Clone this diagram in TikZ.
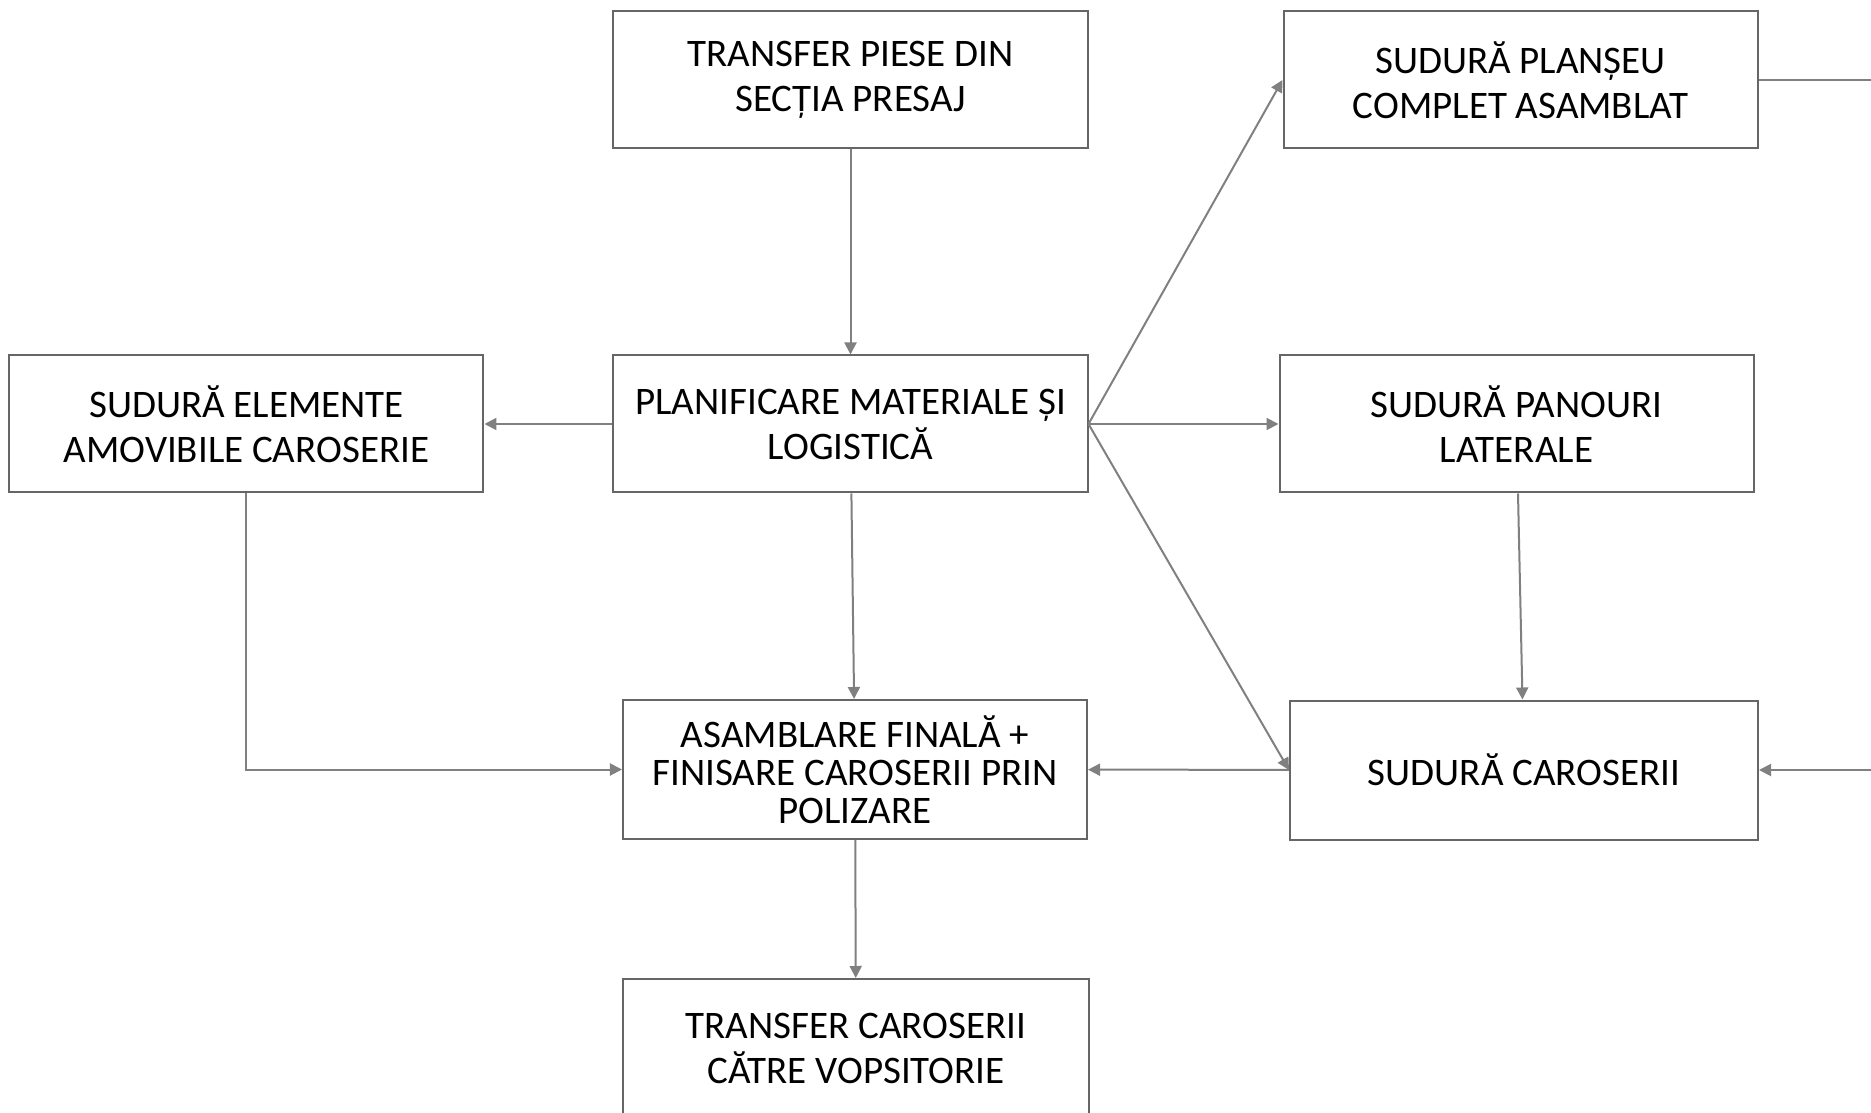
\documentclass[tikz,border=0pt]{standalone}
\usepackage{fontspec}
\setmainfont{Carlito}
\usetikzlibrary{arrows.meta,positioning}
\definecolor{boxgray}{HTML}{666666}
\definecolor{linegray}{HTML}{808080}

\begin{document}
\begin{tikzpicture}[on grid, >={Triangle[length=6pt,width=6pt]},
        every node/.style={font=\fontsize{19.5}{22.5}\selectfont},
        box/.style={draw=boxgray, line width=1pt, rectangle, align=center,
            minimum width=237pt, minimum height=68.5pt, inner sep=2pt},
        conn/.style={color=linegray, line width=1pt}]
        \clip (-425.25pt,212pt) rectangle (510.25pt,-344pt);

        \node[box] (plan) {PLANIFICARE MATERIALE ȘI\\LOGISTICĂ};

        \node[box, above=172.25pt of plan] (tpiese) {TRANSFER PIESE DIN\\SECȚIA PRESAJ};
        \node[box, left=302pt of plan] (elemente) {SUDURĂ ELEMENTE\\AMOVIBILE CAROSERIE};

        \node[box, below=172.75pt of plan, xshift=2.25pt, minimum width=232pt, minimum height=69.5pt,
            font=\fontsize{19.5}{19}\selectfont] (asamblare) {ASAMBLARE FINALĂ +\\FINISARE CAROSERII PRIN\\POLIZARE};
        \node[box, below=139.5pt of asamblare, xshift=0.5pt, minimum width=233pt, minimum height=69.5pt] (tcaros) {TRANSFER CAROSERII\\CĂTRE VOPSITORIE};

        \node[box, right=333pt of plan] (panouri) {SUDURĂ PANOURI\\LATERALE};
        \node[box, above=172pt of panouri, xshift=2pt] (planseu) {SUDURĂ PLANȘEU\\COMPLET ASAMBLAT};
        \node[box, below=173pt of panouri, xshift=3.75pt, minimum width=234pt, minimum height=69.5pt] (caroserii) {SUDURĂ CAROSERII};

        \coordinate (edgeR) at (510.25pt,0);
        \coordinate (exitR) at (planseu.east -| edgeR);
        \coordinate (entryR) at (caroserii.east -| edgeR);

        \path[conn,->] (tpiese) edge (plan);
        \path[conn,->] (plan) edge (elemente);
        \path[conn,->] (plan.east) edge (panouri);
        \path[conn,->] (plan.east) edge (planseu.west);
        \path[conn,->] (plan.east) edge (caroserii.west);
        \path[conn,->] (plan) edge (asamblare);
        \path[conn,->] (panouri) edge (caroserii);
        \path[conn,->] (caroserii) edge (asamblare);
        \draw[conn,->] (elemente.south) |- (asamblare.west);
        \path[conn,->] (asamblare) edge (tcaros);
        \path[conn] (planseu.east) edge (exitR);
        \path[conn,->] (entryR) edge (caroserii.east);
    \end{tikzpicture}
\end{document}
